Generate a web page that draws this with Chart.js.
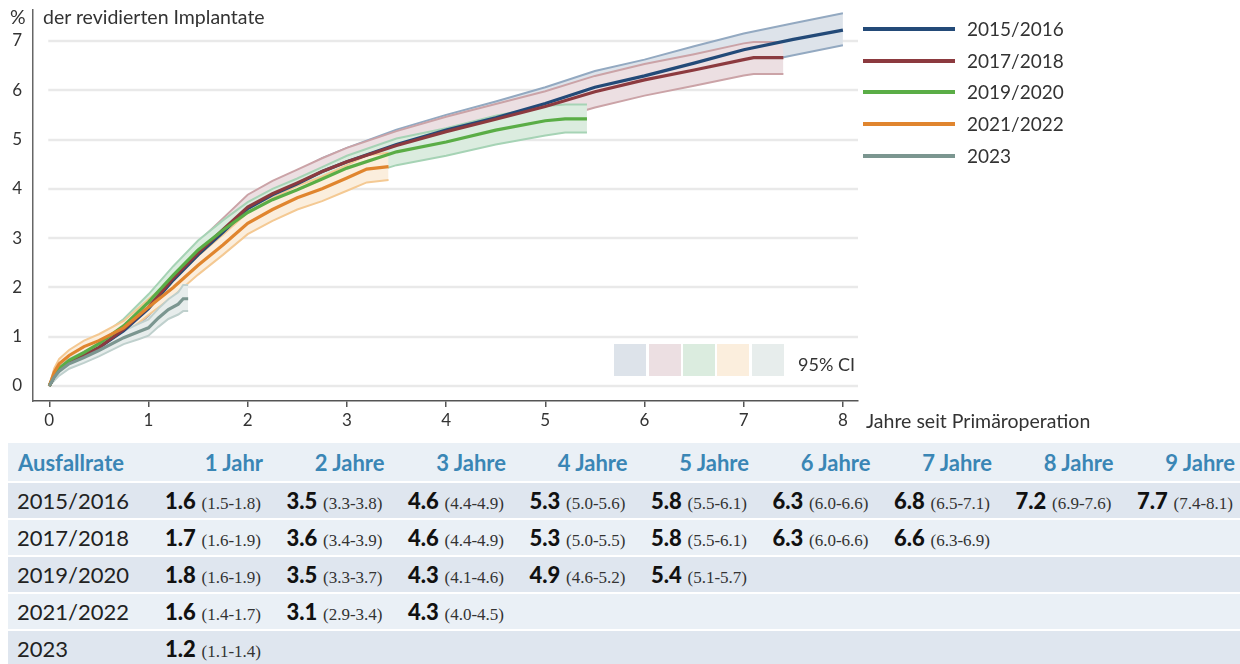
<!DOCTYPE html>
<html>
<head>
<meta charset="utf-8">
<script src="https://cdn.jsdelivr.net/npm/chart.js@4.4.1/dist/chart.umd.min.js"></script>
<style>
  html,body{margin:0;padding:0;background:#fff;}
  #wrap{position:relative;width:1240px;height:664px;overflow:hidden;font-family:Lato,"Open Sans",sans-serif;color:#333;}
  #c{position:absolute;left:0;top:0;}
  .t{position:absolute;white-space:nowrap;line-height:1;}
  .leg{position:absolute;left:863px;width:92px;height:3.5px;}
  .legt{position:absolute;left:967px;font-size:19px;color:#333;white-space:nowrap;line-height:1;}
  .ci{position:absolute;top:344px;width:32px;height:32px;}
  table{position:absolute;left:8px;top:443px;width:1232px;border-collapse:collapse;table-layout:fixed;font-family:Lato,sans-serif;}
  td,th{padding:0;white-space:nowrap;}
  th{height:38px;font-size:22px;font-weight:700;color:#3a86b5;text-align:right;padding-right:5px;background:#eaf0f6;}
  th.first{text-align:left;padding-left:10px;padding-right:0;}
  tr.r td{height:35px;border-top:2.5px solid #fff;text-align:right;padding-right:7px;font-size:22px;color:#111;}
  tr.r td.first{text-align:left;padding-left:9px;padding-right:0;font-size:22px;color:#222;}
  tr.odd td{background:#dfe6ef;}
  tr.even td{background:#eaf0f6;}
  b{font-weight:900;}
  .p{font-family:"Liberation Serif",serif;font-size:17px;color:#333;}
</style>
</head>
<body>
<div id="wrap">
  <canvas id="c" width="1240" height="440"></canvas>
  <div class="t" style="left:10px;top:7px;font-size:19.5px;">%</div>
  <div class="t" style="left:43px;top:7px;font-size:19.5px;">der revidierten Implantate</div>
  <div class="t" style="left:866px;top:411px;font-size:19.5px;">Jahre seit Primäroperation</div>
  <div id="legend"></div>
  <div id="cileg"></div>
  <div class="t" style="left:798px;top:355px;font-size:18px;">95% CI</div>
  <table id="tbl"></table>
</div>
<script>
// ---- categories / series names ----
const categories = ["2015/2016", "2017/2018", "2019/2020", "2021/2022", "2023"];

// ---- axis ticks ----
const xTicks = [0, 1, 2, 3, 4, 5, 6, 7, 8];
const yTicks = [0, 1, 2, 3, 4, 5, 6, 7];

// ---- 2015/2016 ----
const x1516  = [0, 0.05, 0.1, 0.2, 0.35, 0.5, 0.75, 1, 1.25, 1.5, 1.75, 2, 2.25, 2.5, 2.75, 3, 3.5, 4, 4.5, 5, 5.5, 6, 6.5, 7, 7.5, 8];
const y1516  = [0, 0.2, 0.33, 0.48, 0.62, 0.78, 1.12, 1.57, 2.15, 2.66, 3.12, 3.6, 3.88, 4.1, 4.35, 4.55, 4.9, 5.19, 5.44, 5.73, 6.06, 6.29, 6.55, 6.82, 7.03, 7.22];
const hi1516 = [0, 0.26, 0.4, 0.56, 0.7, 0.88, 1.24, 1.72, 2.33, 2.85, 3.34, 3.84, 4.13, 4.36, 4.62, 4.83, 5.2, 5.5, 5.77, 6.06, 6.39, 6.62, 6.89, 7.15, 7.36, 7.56];
const lo1516 = [0, 0.14, 0.26, 0.4, 0.54, 0.68, 1.0, 1.42, 1.97, 2.46, 2.91, 3.37, 3.64, 3.85, 4.09, 4.28, 4.61, 4.89, 5.13, 5.41, 5.73, 5.96, 6.22, 6.5, 6.71, 6.91];

// ---- 2017/2018 ----
const x1718  = [0, 0.05, 0.1, 0.2, 0.35, 0.5, 0.75, 1, 1.25, 1.5, 1.75, 2, 2.25, 2.5, 2.75, 3, 3.5, 4, 4.5, 5, 5.5, 6, 6.5, 7, 7.1, 7.4];
const y1718  = [0, 0.2, 0.33, 0.48, 0.62, 0.78, 1.15, 1.6, 2.19, 2.7, 3.17, 3.63, 3.9, 4.12, 4.35, 4.55, 4.88, 5.16, 5.41, 5.67, 5.97, 6.21, 6.41, 6.62, 6.66, 6.66];
const hi1718 = [0, 0.27, 0.41, 0.57, 0.72, 0.89, 1.28, 1.76, 2.39, 2.92, 3.4, 3.88, 4.16, 4.39, 4.62, 4.83, 5.17, 5.46, 5.72, 5.98, 6.29, 6.53, 6.73, 6.95, 6.98, 6.98];
const lo1718 = [0, 0.13, 0.25, 0.39, 0.52, 0.67, 1.02, 1.44, 1.99, 2.48, 2.94, 3.38, 3.64, 3.85, 4.08, 4.27, 4.59, 4.86, 5.1, 5.36, 5.65, 5.89, 6.09, 6.3, 6.33, 6.33];

// ---- 2019/2020 ----
const x1920  = [0, 0.05, 0.1, 0.2, 0.35, 0.5, 0.75, 1, 1.25, 1.5, 1.75, 2, 2.25, 2.5, 2.75, 3, 3.5, 4, 4.5, 5, 5.2, 5.42];
const y1920  = [0, 0.22, 0.36, 0.52, 0.68, 0.86, 1.22, 1.7, 2.25, 2.76, 3.16, 3.52, 3.78, 3.98, 4.2, 4.42, 4.75, 4.95, 5.19, 5.38, 5.42, 5.42];
const hi1920 = [0, 0.29, 0.45, 0.62, 0.79, 0.98, 1.36, 1.86, 2.43, 2.95, 3.36, 3.73, 4.0, 4.21, 4.44, 4.67, 5.02, 5.23, 5.48, 5.68, 5.71, 5.71];
const lo1920 = [0, 0.15, 0.27, 0.42, 0.57, 0.74, 1.08, 1.54, 2.07, 2.57, 2.96, 3.31, 3.56, 3.75, 3.96, 4.17, 4.48, 4.67, 4.9, 5.08, 5.14, 5.14];

// ---- 2021/2022 ----
const x2122  = [0, 0.05, 0.1, 0.2, 0.35, 0.5, 0.75, 1, 1.25, 1.5, 1.75, 2, 2.25, 2.5, 2.75, 3, 3.2, 3.42];
const y2122  = [0, 0.28, 0.45, 0.62, 0.8, 0.92, 1.18, 1.6, 2.0, 2.45, 2.86, 3.3, 3.58, 3.82, 4.0, 4.22, 4.4, 4.45];
const hi2122 = [0, 0.36, 0.55, 0.73, 0.92, 1.05, 1.32, 1.76, 2.18, 2.64, 3.07, 3.52, 3.81, 4.06, 4.25, 4.48, 4.68, 4.73];
const lo2122 = [0, 0.2, 0.35, 0.51, 0.68, 0.79, 1.04, 1.44, 1.82, 2.26, 2.66, 3.08, 3.35, 3.58, 3.75, 3.96, 4.13, 4.18];

// ---- 2023 ----
const x2023  = [0, 0.05, 0.1, 0.2, 0.35, 0.5, 0.75, 0.9, 1.0, 1.1, 1.2, 1.3, 1.35, 1.4];
const y2023  = [0, 0.18, 0.3, 0.45, 0.58, 0.72, 0.98, 1.1, 1.18, 1.38, 1.55, 1.66, 1.77, 1.77];
const hi2023 = [0, 0.25, 0.39, 0.55, 0.69, 0.84, 1.12, 1.26, 1.35, 1.57, 1.76, 1.9, 2.05, 2.05];
const lo2023 = [0, 0.11, 0.21, 0.35, 0.47, 0.6, 0.85, 0.95, 1.02, 1.2, 1.36, 1.45, 1.52, 1.52];

// ---- table ----
const tableTitle = "Ausfallrate";
const tableHeaders = ["1 Jahr", "2 Jahre", "3 Jahre", "4 Jahre", "5 Jahre", "6 Jahre", "7 Jahre", "8 Jahre", "9 Jahre"];
const rate1516 = ["1.6", "3.5", "4.6", "5.3", "5.8", "6.3", "6.8", "7.2", "7.7"];
const ci1516   = ["1.5-1.8", "3.3-3.8", "4.4-4.9", "5.0-5.6", "5.5-6.1", "6.0-6.6", "6.5-7.1", "6.9-7.6", "7.4-8.1"];
const rate1718 = ["1.7", "3.6", "4.6", "5.3", "5.8", "6.3", "6.6"];
const ci1718   = ["1.6-1.9", "3.4-3.9", "4.4-4.9", "5.0-5.5", "5.5-6.1", "6.0-6.6", "6.3-6.9"];
const rate1920 = ["1.8", "3.5", "4.3", "4.9", "5.4"];
const ci1920   = ["1.6-1.9", "3.3-3.7", "4.1-4.6", "4.6-5.2", "5.1-5.7"];
const rate2122 = ["1.6", "3.1", "4.3"];
const ci2122   = ["1.4-1.7", "2.9-3.4", "4.0-4.5"];
const rate2023 = ["1.2"];
const ci2023   = ["1.1-1.4"];

// ---- styles (not data) ----
const lineColors = ["#234a78", "#8c3a3f", "#5aad46", "#e0852e", "#7b9690"];
const edgeColors = ["#93a9c1", "#cba3a7", "#a6d3b5", "#f4c993", "#bfd0cd"];
const fillColors = ["#dde3ea", "#ecdfe2", "#dbecdf", "#fbeedd", "#e7edec"];

const seriesX  = [x1516, x1718, x1920, x2122, x2023];
const seriesY  = [y1516, y1718, y1920, y2122, y2023];
const seriesHi = [hi1516, hi1718, hi1920, hi2122, hi2023];
const seriesLo = [lo1516, lo1718, lo1920, lo2122, lo2023];
const rates = [rate1516, rate1718, rate1920, rate2122, rate2023];
const cis = [ci1516, ci1718, ci1920, ci2122, ci2023];

const pts = (xs, ys) => xs.map((x, i) => ({x: x, y: ys[i]}));

const datasets = [];
categories.forEach((name, i) => {
  const base = 50 - i * 10;
  datasets.push({ label: name + " upper", data: pts(seriesX[i], seriesHi[i]), borderColor: edgeColors[i], borderWidth: 2, pointRadius: 0, fill: false, order: base });
  datasets.push({ label: name + " lower", data: pts(seriesX[i], seriesLo[i]), borderColor: edgeColors[i], borderWidth: 2, pointRadius: 0, fill: datasets.length - 1, backgroundColor: fillColors[i], order: base });
});
categories.forEach((name, i) => {
  datasets.push({ label: name, data: pts(seriesX[i], seriesY[i]), borderColor: lineColors[i], borderWidth: 3.2, pointRadius: 0, fill: false, order: 5 - i });
});

const gridPlugin = {
  id: 'ygrid',
  beforeDatasetsDraw(chart) {
    const {ctx, chartArea, scales} = chart;
    ctx.save();
    ctx.strokeStyle = '#e9e9e9';
    ctx.lineWidth = 2.5;
    yTicks.forEach(v => {
      const py = Math.round(scales.y.getPixelForValue(v));
      ctx.beginPath();
      ctx.moveTo(scales.x.getPixelForValue(0) - 1, py);
      ctx.lineTo(chartArea.right, py);
      ctx.stroke();
    });
    ctx.restore();
  }
};

new Chart(document.getElementById('c'), {
  type: 'line',
  data: { datasets: datasets },
  options: {
    responsive: false,
    animation: false,
    devicePixelRatio: 1,
    layout: { padding: { left: 0, right: 382, top: 10, bottom: 0 } },
    plugins: { legend: { display: false }, tooltip: { enabled: false }, filler: { drawTime: 'beforeDatasetDraw' } },
    elements: { line: { tension: 0 } },
    scales: {
      x: {
        type: 'linear', min: -0.164, max: 8.152,
        afterFit: s => { s.height = 39; s.paddingLeft = 0; s.paddingRight = 0; },
        afterBuildTicks: s => { s.ticks = xTicks.map(v => ({value: v})); },
        grid: { drawOnChartArea: false, drawTicks: true, tickLength: 6, color: '#555', lineWidth: 1.5 },
        border: { display: true, color: '#555', width: 1.5 },
        ticks: { padding: 3, color: '#333', font: { family: 'Lato', size: 17 }, maxRotation: 0 }
      },
      y: {
        type: 'linear', min: -0.304, max: 7.627,
        afterFit: s => { s.width = 33; s.paddingTop = 0; s.paddingBottom = 0; },
        afterBuildTicks: s => { s.ticks = yTicks.map(v => ({value: v})); },
        grid: { display: false, drawTicks: false },
        border: { display: true, color: '#666', width: 1.5 },
        ticks: { padding: 11, color: '#333', font: { family: 'Lato', size: 17 } }
      }
    }
  },
  plugins: [gridPlugin]
});

// legend
const leg = document.getElementById('legend');
const legY = [29, 61, 92, 124, 156];
categories.forEach((name, i) => {
  const l = document.createElement('div');
  l.className = 'leg'; l.style.top = (legY[i] - 1.75) + 'px'; l.style.background = lineColors[i];
  leg.appendChild(l);
  const t = document.createElement('div');
  t.className = 'legt'; t.style.top = (legY[i] - 10) + 'px'; t.textContent = name;
  leg.appendChild(t);
});
const cil = document.getElementById('cileg');
const ciX = [614, 649, 683, 717, 752];
fillColors.forEach((c, i) => {
  const d = document.createElement('div');
  d.className = 'ci'; d.style.left = ciX[i] + 'px'; d.style.background = c;
  cil.appendChild(d);
});

// table
const tbl = document.getElementById('tbl');
let html = '<colgroup><col style="width:138.5px">' + tableHeaders.map(() => '<col style="width:121.5px">').join('') + '</colgroup>';
html += '<tr><th class="first">' + tableTitle + '</th>' + tableHeaders.map(h => '<th>' + h + '</th>').join('') + '</tr>';
categories.forEach((name, i) => {
  html += '<tr class="r ' + (i % 2 === 0 ? 'odd' : 'even') + '"><td class="first">' + name + '</td>';
  tableHeaders.forEach((h, j) => {
    if (j < rates[i].length) html += '<td><b>' + rates[i][j] + '</b> <span class="p">(' + cis[i][j] + ')</span></td>';
    else html += '<td></td>';
  });
  html += '</tr>';
});
tbl.innerHTML = html;
</script>
</body>
</html>
